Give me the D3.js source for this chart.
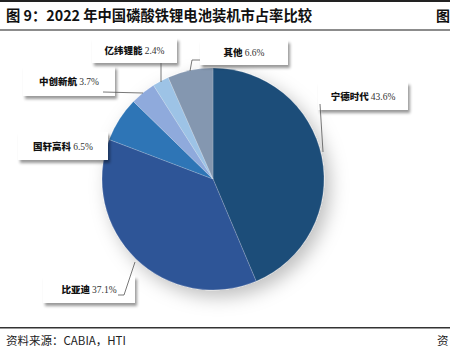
<!DOCTYPE html>
<html lang="zh">
    <head>
        <meta charset="utf-8">
        <script src="https://d3js.org/d3.v7.min.js"></script>
        <style type="text/css">
            body {
                margin: 0;
                background: #fff;
            }
            text {
                font-family: "Noto Sans CJK SC", "Noto Sans", sans-serif;
            }
        </style>
    </head>
    <body>
        <div id="chart"></div>

        <script type="text/javascript">
            // market share data, 2022 (%)
            var companies = ["宁德时代", "比亚迪", "国轩高科", "中创新航", "亿纬锂能", "其他"];
            var shares = [43.6, 37.1, 6.5, 3.7, 2.4, 6.6];
            var shareLabels = ["43.6%", "37.1%", "6.5%", "3.7%", "2.4%", "6.6%"];
            var sliceColors = ["#1f4e79", "#2f5597", "#2e75b6", "#8faadc", "#9dc3e6", "#8497b0"];

            // label callout boxes: x, y, w, h and leader polyline
            var callouts = [
                { x: 318, y: 82, w: 90, h: 28, line: [[320, 104], [323, 152]] },
                { x: 43, y: 276, w: 92, h: 27, line: [[118, 295], [124, 295], [135, 262]] },
                { x: 18, y: 132, w: 90, h: 28, line: [] },
                { x: 23, y: 66, w: 92, h: 30, line: [[103, 92], [143, 93]] },
                { x: 92, y: 38, w: 85, h: 25, line: [[161, 63], [161, 82]] },
                { x: 200, y: 40, w: 88, h: 25, line: [[200, 60], [192, 60], [190, 71]] }
            ];

            var w = 450, h = 363;
            var cx = 213, cy = 179, r = 111;

            var svg = d3.select("#chart")
                .append("svg")
                .attr("width", w)
                .attr("height", h);

            var defs = svg.append("defs");
            defs.append("filter")
                .attr("id", "pieShadow")
                .attr("x", "-30%").attr("y", "-30%")
                .attr("width", "160%").attr("height", "160%")
                .append("feDropShadow")
                .attr("dx", 6).attr("dy", 7)
                .attr("stdDeviation", 9)
                .attr("flood-color", "#000")
                .attr("flood-opacity", 0.25);
            defs.append("filter")
                .attr("id", "boxShadow")
                .attr("x", "-20%").attr("y", "-30%")
                .attr("width", "140%").attr("height", "180%")
                .append("feDropShadow")
                .attr("dx", 2).attr("dy", 3)
                .attr("stdDeviation", 1.8)
                .attr("flood-color", "#000")
                .attr("flood-opacity", 0.4);

            // header / footer rules
            svg.append("rect").attr("x", 0).attr("y", 0).attr("width", w).attr("height", 2).attr("fill", "#222");
            svg.append("rect").attr("x", 0).attr("y", 29).attr("width", w).attr("height", 2).attr("fill", "#8c8c8c");
            svg.append("rect").attr("x", 0).attr("y", 327).attr("width", w).attr("height", 1.5).attr("fill", "#333");

            svg.append("text")
                .attr("x", 6).attr("y", 21)
                .attr("font-size", 14.3).attr("font-weight", "bold")
                .attr("fill", "#111")
                .text("图 9：2022 年中国磷酸铁锂电池装机市占率比较");
            svg.append("text")
                .attr("x", 436).attr("y", 21)
                .attr("font-size", 14).attr("font-weight", "bold")
                .attr("fill", "#111")
                .text("图");

            svg.append("text")
                .attr("x", 6).attr("y", 345)
                .attr("font-size", 11.5)
                .attr("fill", "#222")
                .text("资料来源：CABIA，HTI");
            svg.append("text")
                .attr("x", 437).attr("y", 345)
                .attr("font-size", 11.5)
                .attr("fill", "#222")
                .text("资");

            // pie
            var data = companies.map(function (d, i) {
                return { name: d, value: shares[i], label: shareLabels[i], color: sliceColors[i], box: callouts[i] };
            });

            var pie = d3.pie()
                .sort(null)
                .value(function (d) { return d.value; })
                .startAngle(0)
                .endAngle(2 * Math.PI);

            var arc = d3.arc().innerRadius(0).outerRadius(r);

            var pieGroup = svg.append("g")
                .attr("transform", "translate(" + cx + "," + cy + ")")
                .attr("filter", "url(#pieShadow)");

            pieGroup.selectAll("path")
                .data(pie(data))
                .enter()
                .append("path")
                .attr("d", arc)
                .attr("fill", function (d) { return d.data.color; })
                .attr("stroke", "#fff")
                .attr("stroke-opacity", 0.35)
                .attr("stroke-width", 0.5);

            // callout boxes
            var boxGroup = svg.append("g");
            var boxes = boxGroup.selectAll("g")
                .data(data)
                .enter()
                .append("g");

            boxes.append("rect")
                .attr("x", function (d) { return d.box.x; })
                .attr("y", function (d) { return d.box.y; })
                .attr("width", function (d) { return d.box.w; })
                .attr("height", function (d) { return d.box.h; })
                .attr("fill", "#fff")
                .attr("filter", "url(#boxShadow)");

            var labelText = boxes.append("text")
                .attr("x", function (d) { return d.box.x + d.box.w / 2; })
                .attr("y", function (d) { return d.box.y + d.box.h / 2 + 3.5; })
                .attr("text-anchor", "middle")
                .attr("font-size", 9.5)
                .attr("fill", "#111");
            labelText.append("tspan")
                .attr("font-weight", "900")
                .text(function (d) { return d.name + " "; });
            labelText.append("tspan")
                .attr("font-family", "'Liberation Serif', serif")
                .attr("font-size", 9.5)
                .attr("fill", "#333")
                .text(function (d) { return d.label; });

            var line = d3.line();
            boxes.filter(function (d) { return d.box.line.length > 0; })
                .append("path")
                .attr("d", function (d) { return line(d.box.line); })
                .attr("fill", "none")
                .attr("stroke", "#555")
                .attr("stroke-width", 0.8);
        </script>
    </body>
</html>
